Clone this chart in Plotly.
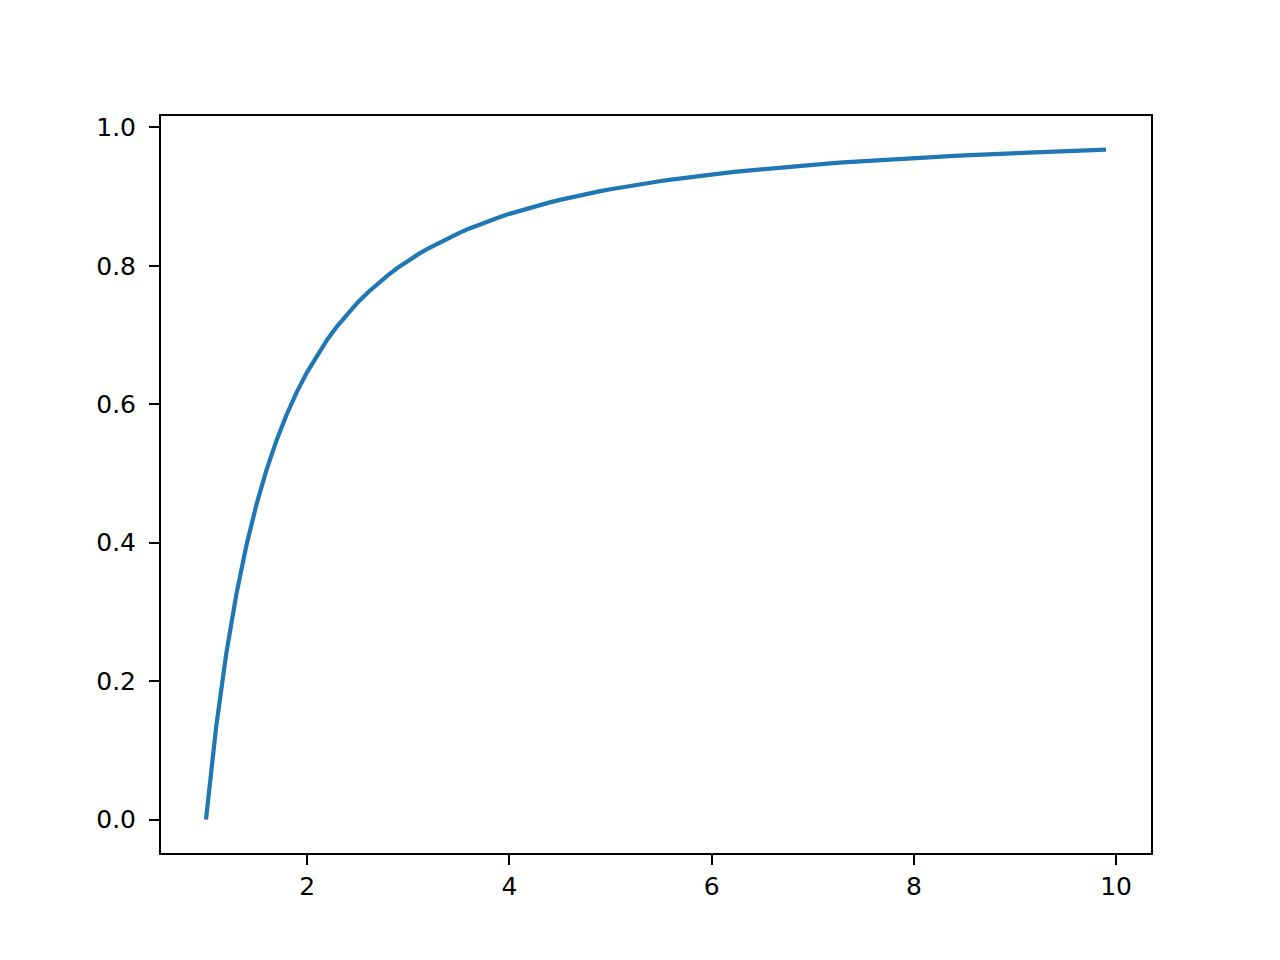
import plotly.graph_objects as go

# sample points
x_vals = [1.0, 1.1, 1.2, 1.3, 1.4, 1.5, 1.6, 1.7, 1.8, 1.9,
          2.0, 2.1, 2.2, 2.3, 2.4, 2.5, 2.6, 2.7, 2.8, 2.9,
          3.0, 3.1, 3.2, 3.3, 3.4, 3.5, 3.6, 3.7, 3.8, 3.9,
          4.0, 4.1, 4.2, 4.3, 4.4, 4.5, 4.6, 4.7, 4.8, 4.9,
          5.0, 5.1, 5.2, 5.3, 5.4, 5.5, 5.6, 5.7, 5.8, 5.9,
          6.0, 6.1, 6.2, 6.3, 6.4, 6.5, 6.6, 6.7, 6.8, 6.9,
          7.0, 7.1, 7.2, 7.3, 7.4, 7.5, 7.6, 7.7, 7.8, 7.9,
          8.0, 8.1, 8.2, 8.3, 8.4, 8.5, 8.6, 8.7, 8.8, 8.9,
          9.0, 9.1, 9.2, 9.3, 9.4, 9.5, 9.6, 9.7, 9.8, 9.9]

y_vals = [0.0000, 0.1332, 0.2393, 0.3253, 0.3963, 0.4557, 0.5059, 0.5488, 0.5859, 0.6182,
          0.6464, 0.6714, 0.6935, 0.7133, 0.7310, 0.7470, 0.7615, 0.7746, 0.7866, 0.7975,
          0.8075, 0.8168, 0.8253, 0.8332, 0.8405, 0.8473, 0.8536, 0.8595, 0.8650, 0.8702,
          0.8750, 0.8795, 0.8838, 0.8878, 0.8916, 0.8952, 0.8986, 0.9019, 0.9049, 0.9078,
          0.9106, 0.9132, 0.9157, 0.9180, 0.9203, 0.9225, 0.9245, 0.9265, 0.9284, 0.9302,
          0.9320, 0.9336, 0.9352, 0.9368, 0.9382, 0.9397, 0.9410, 0.9423, 0.9436, 0.9448,
          0.9460, 0.9471, 0.9482, 0.9493, 0.9503, 0.9513, 0.9523, 0.9532, 0.9541, 0.9550,
          0.9558, 0.9566, 0.9574, 0.9582, 0.9589, 0.9596, 0.9603, 0.9610, 0.9617, 0.9623,
          0.9630, 0.9636, 0.9642, 0.9647, 0.9653, 0.9658, 0.9664, 0.9669, 0.9674, 0.9679]

x_ticks = [2, 4, 6, 8, 10]
y_ticks = [0.0, 0.2, 0.4, 0.6, 0.8, 1.0]

fig = go.Figure()
fig.add_trace(go.Scatter(x=x_vals, y=y_vals, mode='lines',
                         line=dict(color='#1f77b4', width=4.2), showlegend=False))

axis_style = dict(showgrid=False, zeroline=False, showline=True, mirror=True,
                  linecolor='black', linewidth=2, ticks='outside', ticklen=10,
                  tickwidth=2, tickcolor='black',
                  tickfont=dict(family='DejaVu Sans', size=25, color='black'))

fig.update_xaxes(range=[0.555, 10.345], tickvals=x_ticks,
                 ticktext=[str(t) for t in x_ticks], **axis_style)
fig.update_yaxes(range=[-0.0484, 1.0164], tickvals=y_ticks, ticklabelstandoff=8,
                 ticktext=['%.1f' % t for t in y_ticks], **axis_style)

# page body adds ~7px offset, so margins are nudged to keep the axes box in place
fig.update_layout(width=1280, height=960, plot_bgcolor='white', paper_bgcolor='white',
                  margin=dict(l=153, r=137, t=108, b=115))

fig.write_html("out.html")
